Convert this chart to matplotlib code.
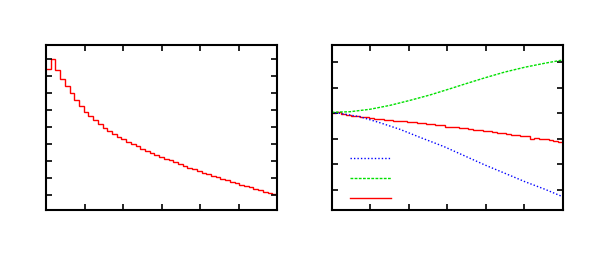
import numpy as np
import matplotlib
matplotlib.use("Agg")
import matplotlib.pyplot as plt
from matplotlib.lines import Line2D

# ---- data ----
left_steps = [141, 150.7, 140, 131, 124, 116.7, 110, 104, 98.3, 94, 90, 86, 82.3,
              79.3, 76.3, 73.5, 71, 68.5, 66, 63.7, 61.5, 59.3, 57.2, 55.2, 53.2,
              51.4, 49.6, 47.8, 46, 44.2, 42.4, 40.7, 39, 37.5, 36, 34.5, 33, 31.5,
              30, 28.5, 27, 25.5, 24, 22.6, 21.2, 19.8, 18.4, 17, 15.6]

green_x = [0.0, 0.48, 0.99, 1.51, 2.03, 2.55, 3.07, 3.46, 3.98, 4.50, 5.02, 5.54, 6.0]
green_y = [97.7, 98.3, 100.7, 104.6, 109.6, 115, 121.2, 126, 132.2, 138, 142.8, 146.8, 150]

blue_x = [0.0, 0.21, 0.73, 1.25, 1.77, 2.29, 2.81, 2.94, 3.46, 3.98, 4.50, 5.02, 5.54, 6.0]
blue_y = [97, 96.7, 93.3, 87.3, 80.7, 72.7, 65, 63, 54, 45, 36.7, 28.3, 20.7, 13.3]

red_steps = [97, 98.3, 96, 95, 94.3, 93.8, 93.3, 92.8, 92.3, 91.5, 91, 90.5, 90,
             89.5, 89, 88.8, 88.3, 87.8, 87.3, 86.8, 86.3, 86, 85.3, 84.7, 83.5,
             83.3, 82.7, 82.2, 81.7, 81.2, 80.5, 79.8, 79.3, 78.7, 77.7, 77.5, 76.8,
             76.3, 75.5, 75, 74.5, 74, 70.7, 72.3, 71.5, 70.7, 69.8, 69, 68.3]

x_ticks = [0, 1, 2, 3, 4, 5, 6]
left_yticks = [15, 32, 49, 66, 83, 100, 117, 134, 151]
right_yticks = [20.5, 46, 71.5, 97, 122.5, 148]

RED = "#ff0000"
GREEN = "#00e000"
BLUE = "#0000ff"

fig = plt.figure(figsize=(5.91, 2.56), dpi=100)
ax1 = fig.add_axes([46 / 591, 46 / 256, 231 / 591, 165 / 256])
ax2 = fig.add_axes([331.7 / 591, 46 / 256, 231 / 591, 165 / 256])

edges1 = np.linspace(0, 6, len(left_steps) + 1)
ax1.stairs(left_steps, edges1, baseline=None, color=RED, lw=1.0)
ax1.set_ylim(0, 165)
ax1.set_yticks(left_yticks)

edges2 = np.linspace(0, 6, len(red_steps) + 1)
ax2.plot(blue_x, blue_y, color=BLUE, lw=1.0, linestyle=(0, (1, 1.5)))
ax2.plot(green_x, green_y, color=GREEN, lw=1.0, linestyle=(0, (2, 1)))
ax2.stairs(red_steps, edges2, baseline=None, color=RED, lw=1.0)
ax2.set_ylim(0, 165)
ax2.set_yticks(right_yticks)

handles = [Line2D([], [], color=BLUE, lw=1.0, linestyle=(0, (1, 1.5))),
           Line2D([], [], color=GREEN, lw=1.0, linestyle=(0, (2, 1))),
           Line2D([], [], color=RED, lw=1.0)]
ax2.legend(handles, [" ", " ", " "], loc="lower left",
           bbox_to_anchor=(0.079, 0.025), frameon=False, borderpad=0,
           borderaxespad=0, handlelength=2.95, labelspacing=0.42,
           handletextpad=0.2, fontsize=10)

for ax in (ax1, ax2):
    ax.set_xlim(0, 6)
    ax.set_xticks(x_ticks)
    ax.tick_params(direction="in", length=4, width=1.2, top=True, right=True,
                   labelbottom=False, labelleft=False, color="black")
    for s in ax.spines.values():
        s.set_linewidth(1.5)
        s.set_color("black")

fig.savefig("out.png", dpi=100)
